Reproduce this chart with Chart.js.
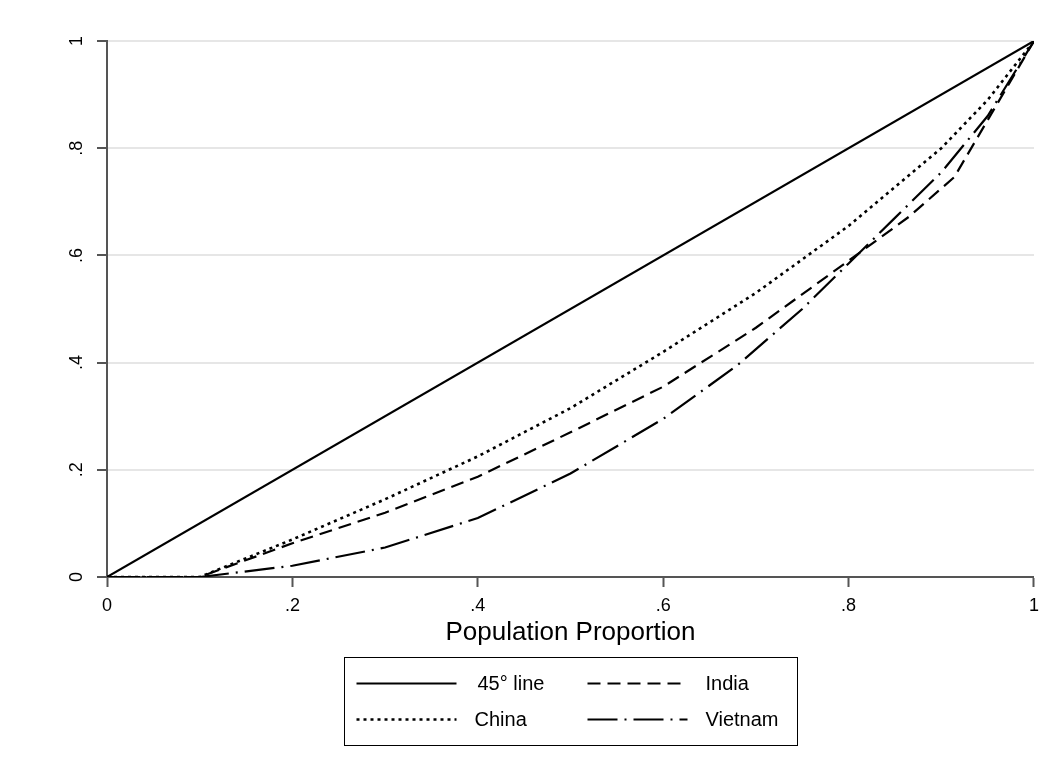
<!DOCTYPE html>
<html>
<head>
<meta charset="utf-8">
<script src="https://cdn.jsdelivr.net/npm/chart.js@4/dist/chart.umd.min.js"></script>
<style>
  html, body { margin: 0; padding: 0; background: #fff; }
  #wrap { width: 1047px; height: 773px; }
</style>
</head>
<body>
<div id="wrap"><canvas id="lorenzChart" width="1047" height="773"></canvas></div>
<script>
// Lorenz curves, values
var lineX = [0, 1];
var lineY = [0, 1];

var indiaX = [0, 0.1, 0.2, 0.3, 0.4, 0.5, 0.6, 0.7, 0.8, 0.865, 0.914, 1];
var indiaY = [0, 0, 0.063, 0.12, 0.187, 0.27, 0.355, 0.465, 0.59, 0.672, 0.746, 1];

var chinaX = [0, 0.1, 0.2, 0.3, 0.4, 0.5, 0.6, 0.7, 0.8, 0.9, 0.95, 1];
var chinaY = [0, 0, 0.07, 0.145, 0.225, 0.315, 0.42, 0.53, 0.655, 0.8, 0.89, 1];

var vietnamX = [0, 0.1, 0.2, 0.3, 0.4, 0.5, 0.6, 0.68, 0.75, 0.8, 0.85, 0.9, 0.95, 1];
var vietnamY = [0, 0, 0.021, 0.055, 0.11, 0.193, 0.295, 0.395, 0.5, 0.585, 0.67, 0.755, 0.86, 1];

var tickValues = [0, 0.2, 0.4, 0.6, 0.8, 1];
var labels = ['45\u00b0 line', 'India', 'China', 'Vietnam'];

function pts(xs, ys) {
  return xs.map(function(x, i) { return {x: x, y: ys[i]}; });
}

function fmt(v) {
  if (v === 0) return '0';
  if (v === 1) return '1';
  return v.toFixed(1).replace(/^0/, '');
}

var AXIS = '#555555';
var FONT = "'Liberation Sans', Arial, sans-serif";

/* legend box under the plot, two columns */
var boxLegend = {
  id: 'boxLegend',
  afterDraw: function(chart) {
    var ctx = chart.ctx;
    var area = chart.chartArea;
    var cx = (area.left + area.right) / 2;
    var bw = 453, bh = 88;
    var bx = Math.round(cx - bw / 2) + 0.5;
    var by = area.bottom + 80 + 0.5;
    ctx.save();
    ctx.strokeStyle = '#000';
    ctx.lineWidth = 1;
    ctx.setLineDash([]);
    ctx.strokeRect(bx, by, bw, bh);

    ctx.font = '20px ' + FONT;
    ctx.fillStyle = '#000';
    ctx.textBaseline = 'middle';
    ctx.textAlign = 'left';
    chart.data.datasets.forEach(function(ds, i) {
      var col = i % 2, row = Math.floor(i / 2);
      var lx = bx + 12 + col * 231;
      var ly = by + 26 + row * 36;
      ctx.save();
      ctx.strokeStyle = ds.borderColor;
      ctx.lineWidth = ds.borderWidth;
      ctx.setLineDash(ds.borderDash || []);
      ctx.beginPath();
      ctx.moveTo(lx, ly);
      ctx.lineTo(lx + 100, ly);
      ctx.stroke();
      ctx.restore();
      ctx.fillText(ds.label, lx + (i === 0 ? 121 : 118), ly + 1);
    });
    ctx.restore();
  }
};

var ctx = document.getElementById('lorenzChart');
var lorenzChart = new Chart(ctx, {
  type: 'line',
  data: {
    datasets: [
      {label: labels[0], data: pts(lineX, lineY), borderColor: '#000', borderWidth: 2.2, borderDash: []},
      {label: labels[1], data: pts(indiaX, indiaY), borderColor: '#000', borderWidth: 2.2, borderDash: [13, 7]},
      {label: labels[2], data: pts(chinaX, chinaY), borderColor: '#000', borderWidth: 2.6, borderDash: [3, 4]},
      {label: labels[3], data: pts(vietnamX, vietnamY), borderColor: '#000', borderWidth: 2.2, borderDash: [30, 7, 2, 7]}
    ]
  },
  options: {
    responsive: false,
    animation: false,
    events: [],
    layout: { padding: {left: 0, right: 12, top: 41, bottom: 125} },
    elements: { point: {radius: 0}, line: {tension: 0, fill: false} },
    plugins: { legend: {display: false}, tooltip: {enabled: false} },
    scales: {
      x: {
        type: 'linear',
        min: 0, max: 1,
        afterBuildTicks: function(s) { s.ticks = tickValues.map(function(v) { return {value: v}; }); },
        afterFit: function(s) { s.height = 71; },
        ticks: { callback: fmt, color: '#000', padding: 8, maxRotation: 0, font: {family: FONT, size: 18} },
        grid: { drawOnChartArea: false, tickLength: 10, tickColor: AXIS, tickWidth: 2, color: AXIS },
        border: { color: AXIS, width: 2 },
        title: { display: true, text: 'Population Proportion', color: '#000', padding: {top: 3, bottom: 0},
                 font: {family: FONT, size: 26} }
      },
      y: {
        type: 'linear',
        min: 0, max: 1,
        afterBuildTicks: function(s) { s.ticks = tickValues.map(function(v) { return {value: v}; }); },
        afterFit: function(s) { s.width = 107; },
        ticks: { callback: fmt, color: '#000', padding: 12, minRotation: 90, maxRotation: 90,
                 crossAlign: 'center', font: {family: FONT, size: 18} },
        grid: { color: '#e6e6e6', lineWidth: 2, tickLength: 10, tickColor: AXIS, tickWidth: 2 },
        border: { color: AXIS, width: 2 }
      }
    }
  },
  plugins: [boxLegend]
});
</script>
</body>
</html>
